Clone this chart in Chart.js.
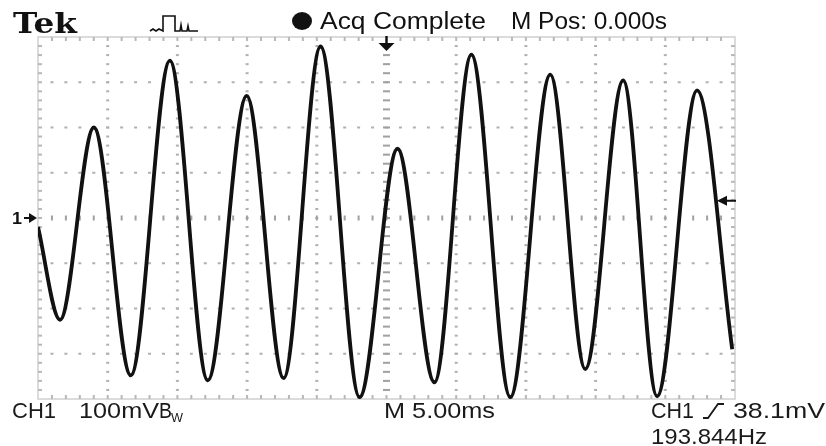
<!DOCTYPE html>
<html>
<head>
<meta charset="utf-8">
<script src="https://cdn.jsdelivr.net/npm/chart.js@4.4.1/dist/chart.umd.min.js"></script>
<style>
  html, body { margin: 0; padding: 0; background: #fff; }
  #wrap { width: 826px; height: 446px; }
</style>
</head>
<body>
<div id="wrap"><canvas id="scope" width="826" height="446"></canvas></div>
<script>
// CH1 trace: time in ms (0 = trigger point), level in mV
const timeMs = [-25.0, -23.42, -20.99, -18.34, -15.54, -12.82, -10.03, -7.38, -4.73, -1.93,
                0.79, 3.44, 6.09, 8.88, 11.75, 14.26, 16.98, 19.41, 22.28, 24.8];
const ch1mV  = [-20, -225, 200, -348, 348, -359, 270, -354, 379, -396,
                153, -363, 361, -396, 317, -334, 304, -394, 282, -290];

// scope settings
const timePerDiv = 5;    // ms / div
const voltPerDiv = 100;  // mV / div
const divsX = 10;
const divsY = 8;
const triggerLevel = 38.1; // mV

// screen readouts
const headerText = ['Acq Complete', 'M Pos: 0.000s'];
const footerText = ['CH1', '100mV', 'M 5.00ms', 'CH1', '38.1mV', '193.844Hz'];

const points = timeMs.map((t, i) => ({ x: t, y: ch1mV[i] }));

// draw text squeezed/stretched to a given width (screen grab is stretched sideways)
function fitText(ctx, text, x, base, font, width) {
    ctx.font = font;
    const w = ctx.measureText(text).width;
    ctx.save();
    ctx.translate(x, base);
    ctx.scale(width / w, 1);
    ctx.fillText(text, 0, 0);
    ctx.restore();
}

// --- graticule: frame, dotted divisions, centre cross with minor ticks ---
const graticule = {
    id: 'graticule',
    beforeDatasetsDraw(chart) {
        const { ctx, chartArea: a, scales: { x, y } } = chart;
        const minorX = timePerDiv / 5, minorY = voltPerDiv / 5;
        ctx.save();

        // dotted division lines
        ctx.fillStyle = '#b0b0b0';
        for (let i = 1; i < divsY; i++) {
            if (i === divsY / 2) continue;
            const py = y.getPixelForValue(y.min + i * voltPerDiv);
            for (let k = 1; k < divsX * 5; k++) {
                const px = x.getPixelForValue(x.min + k * minorX);
                ctx.fillRect(px - 1.5, py - 1, 3, 2);
            }
        }
        for (let i = 1; i < divsX; i++) {
            if (i === divsX / 2) continue;
            const px = x.getPixelForValue(x.min + i * timePerDiv);
            for (let k = 1; k < divsY * 5; k++) {
                const py = y.getPixelForValue(y.min + k * minorY);
                ctx.fillRect(px - 1.5, py - 1, 3, 2);
            }
        }

        // centre cross: tick marks every minor division
        const cx = x.getPixelForValue(0), cy = y.getPixelForValue(0);
        ctx.fillStyle = '#a0a0a0';
        for (let k = 1; k < divsX * 5; k++) {
            const px = x.getPixelForValue(x.min + k * minorX);
            ctx.fillRect(px - 1, cy - 2.5, 2, 5);
        }
        for (let k = 1; k < divsY * 5; k++) {
            const py = y.getPixelForValue(y.min + k * minorY);
            ctx.fillRect(cx - 3.5, py - 1, 7, 2);
        }

        // frame with inward ticks
        ctx.strokeStyle = '#d0d0d0';
        ctx.lineWidth = 1.5;
        ctx.strokeRect(a.left, a.top, a.right - a.left, a.bottom - a.top);
        ctx.fillStyle = '#b8b8b8';
        for (let k = 1; k < divsX * 5; k++) {
            const px = x.getPixelForValue(x.min + k * minorX);
            ctx.fillRect(px - 1, a.top, 2, 4);
            ctx.fillRect(px - 1, a.bottom - 4, 2, 4);
        }
        for (let k = 1; k < divsY * 5; k++) {
            const py = y.getPixelForValue(y.min + k * minorY);
            ctx.fillRect(a.left, py - 1, 4, 2);
            ctx.fillRect(a.right - 4, py - 1, 4, 2);
        }
        ctx.restore();
    }
};

// --- readouts and markers around the screen ---
const readouts = {
    id: 'readouts',
    afterDraw(chart) {
        const { ctx, chartArea: a, scales: { x, y } } = chart;
        ctx.save();
        ctx.fillStyle = '#111';
        ctx.strokeStyle = '#111';

        fitText(ctx, 'Tek', 13, 33, 'bold 27px "DejaVu Serif"', 64);

        // acquisition-mode pulse icon
        ctx.lineWidth = 1.6;
        ctx.beginPath();
        ctx.moveTo(150, 31); ctx.lineTo(153, 29); ctx.lineTo(156, 31); ctx.lineTo(159, 29); ctx.lineTo(163, 31);
        ctx.lineTo(163, 16); ctx.lineTo(175, 16); ctx.lineTo(175, 31);
        ctx.lineTo(180, 31); ctx.lineTo(181, 25); ctx.lineTo(182, 31);
        ctx.lineTo(187, 31); ctx.lineTo(188, 26); ctx.lineTo(189, 31); ctx.lineTo(198, 31);
        ctx.stroke();

        ctx.beginPath();
        ctx.ellipse(302, 21, 10, 9, 0, 0, Math.PI * 2);
        ctx.fill();

        fitText(ctx, headerText[0], 320, 29, '23px "Liberation Sans Narrow", "Liberation Sans"', 166);
        fitText(ctx, headerText[1], 511, 29, '23px "Liberation Sans Narrow", "Liberation Sans"', 156);

        // trigger position arrow (top, at t = 0)
        const tx = x.getPixelForValue(0);
        ctx.lineWidth = 2.4;
        ctx.beginPath(); ctx.moveTo(tx, a.top - 1); ctx.lineTo(tx, a.top + 8); ctx.stroke();
        ctx.beginPath(); ctx.moveTo(tx - 8, a.top + 6); ctx.lineTo(tx + 8, a.top + 6); ctx.lineTo(tx, a.top + 14); ctx.closePath(); ctx.fill();

        // channel 1 ground marker
        const gy = y.getPixelForValue(0);
        fitText(ctx, '1', 12, gy + 6, 'bold 16px "Liberation Sans"', 10);
        ctx.lineWidth = 2;
        ctx.beginPath(); ctx.moveTo(24, gy); ctx.lineTo(31, gy); ctx.stroke();
        ctx.beginPath(); ctx.moveTo(29, gy - 5); ctx.lineTo(37, gy); ctx.lineTo(29, gy + 5); ctx.closePath(); ctx.fill();

        // trigger level marker (right)
        const ly = y.getPixelForValue(triggerLevel);
        ctx.beginPath(); ctx.moveTo(724, ly); ctx.lineTo(736, ly); ctx.stroke();
        ctx.beginPath(); ctx.moveTo(727, ly - 5); ctx.lineTo(717, ly); ctx.lineTo(727, ly + 5); ctx.closePath(); ctx.fill();

        // footer readouts
        ctx.fillStyle = '#1a1a1a';
        const f = '22px "Liberation Sans Narrow", "Liberation Sans"';
        fitText(ctx, footerText[0], 12, 418, f, 44);
        fitText(ctx, footerText[1], 79, 418, f, 80);
        fitText(ctx, 'B', 159, 418, f, 13);
        fitText(ctx, 'W', 171, 422, '13px "Liberation Sans"', 12);
        fitText(ctx, footerText[2], 384, 418, f, 111);
        fitText(ctx, footerText[3], 651, 418, f, 43);
        ctx.strokeStyle = '#1a1a1a';
        ctx.lineWidth = 1.8;
        ctx.beginPath(); ctx.moveTo(703, 418); ctx.lineTo(708, 418); ctx.lineTo(718, 404); ctx.lineTo(724, 404); ctx.stroke();
        fitText(ctx, footerText[4], 733, 418, f, 92);
        fitText(ctx, footerText[5], 651, 444, f, 116);
        ctx.restore();
    }
};

new Chart(document.getElementById('scope'), {
    type: 'line',
    data: {
        datasets: [{
            label: 'CH1',
            data: points,
            borderColor: '#111',
            borderWidth: 3.8,
            pointRadius: 0,
            cubicInterpolationMode: 'monotone',
            fill: false
        }]
    },
    options: {
        responsive: false,
        animation: false,
        events: [],
        layout: { padding: { left: 38, right: 91, top: 37, bottom: 47 } },
        scales: {
            x: { type: 'linear', display: false, min: -divsX / 2 * timePerDiv, max: divsX / 2 * timePerDiv },
            y: { type: 'linear', display: false, min: -divsY / 2 * voltPerDiv, max: divsY / 2 * voltPerDiv }
        },
        plugins: { legend: { display: false }, tooltip: { enabled: false } }
    },
    plugins: [graticule, readouts]
});
</script>
</body>
</html>
